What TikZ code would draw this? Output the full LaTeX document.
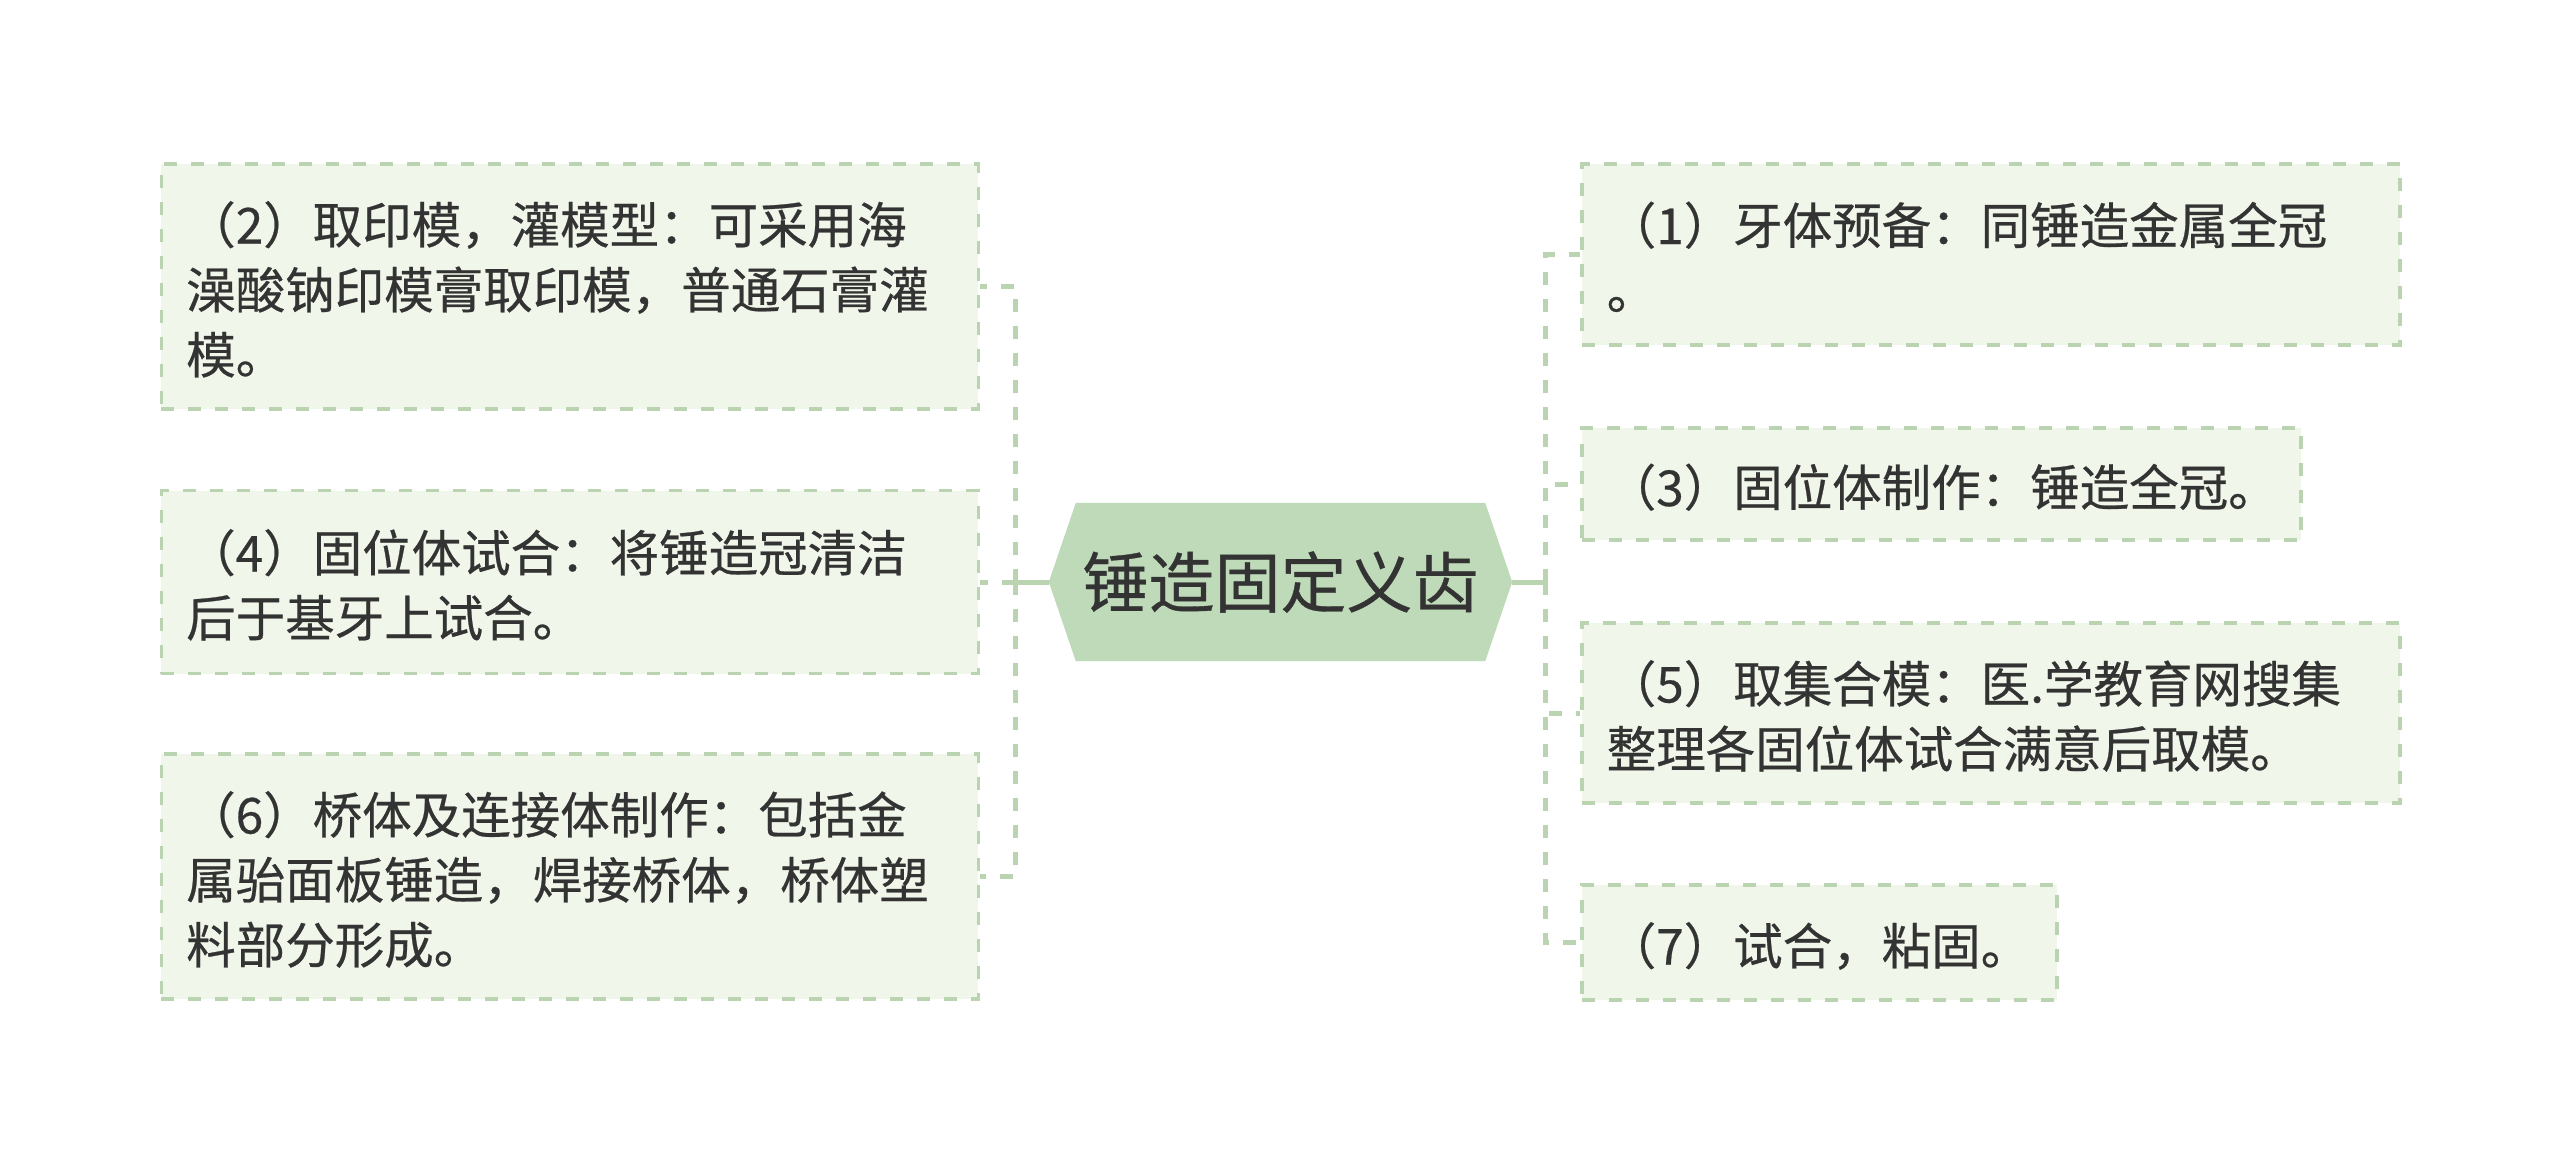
\documentclass[tikz,border=0pt]{standalone}
\usepackage{fontspec}
\usepackage{xcolor}
\usepackage{tikz}
\usetikzlibrary{positioning,backgrounds,calc}
\newfontfamily\cjk[FakeBold=0.5]{Noto Sans CJK SC}
\definecolor{leaffill}{RGB}{240,246,233}
\definecolor{leafline}{RGB}{186,212,178}
\definecolor{rootfill}{RGB}{190,218,185}
\definecolor{inktext}{RGB}{51,51,51}
\newcommand{\lstrut}{\rule[-6pt]{0pt}{56pt}}
\tikzset{
	leaf/.style={draw=leafline,fill=leaffill,line width=3.5pt,dash pattern=on 13pt off 14pt,inner xsep=25pt,inner ysep=0pt,align=left,text=inktext,font=\cjk\fontsize{49.5}{65}\selectfont},
	root/.style={minimum width=463pt,minimum height=158pt,inner sep=0pt,text=inktext,font=\cjk\fontsize{66}{80}\selectfont},
	trunk/.style={draw=leafline,line width=5pt},
	link/.style={draw=leafline,line width=5pt,dash pattern=on 13pt off 14pt}
}
\begin{document}
\begin{tikzpicture}[x=1pt,y=-1pt]
	\node[root] (root) at (1280.5,582) {锤造固定义齿};
	\begin{scope}[on background layer]
		\fill[white] (0,0) rectangle (2560,1165);
		\fill[rootfill] (root.west) -- ([xshift=27pt]root.north west) -- ([xshift=-27pt]root.north east) -- (root.east) -- ([xshift=-27pt]root.south east) -- ([xshift=27pt]root.south west) -- cycle;
	\end{scope}
	\node[leaf,text width=767pt,minimum height=245pt,anchor=east] (b2) at (980,286.5) {\lstrut{}（2）取印模，灌模型：可采用海\\\lstrut{}澡酸钠印模膏取印模，普通石膏灌\\\lstrut{}模。};
	\node[leaf,text width=767pt,minimum height=183pt,anchor=east] (b4) at (980,582) {\lstrut{}（4）固位体试合：将锤造冠清洁\\\lstrut{}后于基牙上试合。};
	\node[leaf,text width=767pt,minimum height=245pt,anchor=east] (b6) at (980,876.5) {\lstrut{}（6）桥体及连接体制作：包括金\\\lstrut{}属骀面板锤造，焊接桥体，桥体塑\\\lstrut{}料部分形成。};
	\node[leaf,text width=768pt,minimum height=181pt,anchor=west] (b1) at (1580,254.5) {\lstrut{}（1）牙体预备：同锤造金属全冠\\\lstrut{}。};
	\node[leaf,text width=669pt,minimum height=112pt,anchor=west] (b3) at (1580,484) {\lstrut{}（3）固位体制作：锤造全冠。};
	\node[leaf,text width=768pt,minimum height=180pt,anchor=west] (b5) at (1580,713) {\lstrut{}（5）取集合模：医.学教育网搜集\\\lstrut{}整理各固位体试合满意后取模。};
	\node[leaf,text width=425pt,minimum height=115pt,anchor=west] (b7) at (1580,942.5) {\lstrut{}（7）试合，粘固。};
	\coordinate (lj) at (1015,582);
	\coordinate (rj) at (1545,582);
	\draw[trunk] (root.west) -- (lj);
	\draw[trunk] (root.east) -- (rj);
	\foreach \b in {b2,b4,b6}
		\draw[link] (lj) |- (\b.east);
	\foreach \b in {b1,b3,b5,b7}
		\draw[link] (rj) |- (\b.west);
\end{tikzpicture}
\end{document}
